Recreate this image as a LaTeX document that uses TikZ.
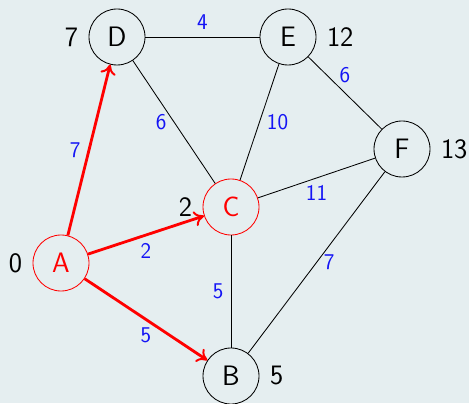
\documentclass[tikz,border=0pt]{standalone}
\usepackage{fontspec}
\usetikzlibrary{positioning}
\usetikzlibrary{arrows.meta}
\definecolor{bgpanel}{RGB}{229,238,240}
\definecolor{wblue}{RGB}{20,20,245}
\tikzset{
    mynode/.style = {circle, draw=black, line width=0.6pt, minimum size=1.4cm, inner sep=0pt, font=\sffamily\fontsize{20}{24}\selectfont},
    mynoder/.style = {mynode, draw=red, text=red},
    dist/.style = {font=\sffamily\fontsize{20}{24}\selectfont, label distance=4pt},
    weight/.style = {font=\sffamily\fontsize{16}{19}\selectfont, text=wblue, inner sep=5pt},
    edgen/.style = {line width=0.6pt, black},
    edger/.style = {-{To[length=7pt,width=11pt,line width=1.4pt]}, line width=2pt, red}, % tree
}
\begin{document}
\begin{tikzpicture}
  \fill[bgpanel] (0,0) rectangle (11.725,10.075);
  \useasboundingbox (0,0) rectangle (11.725,10.075);
  % vertices with their distances
  \node[mynoder, label={[dist]left:0}] at (1.525,3.5) (a) {A};
  \node[mynode, label={[dist]right:5}] at (5.775,0.675) (b) {B};
  \node[mynoder, label={[dist]left:2}] at (5.775,4.9) (c) {C};
  \node[mynode, label={[dist]left:7}] at (2.925,9.15) (d) {D};
  \node[mynode, label={[dist]right:12}] at (7.2,9.15) (e) {E};
  \node[mynode, label={[dist]right:13}] at (10.05,6.35) (f) {F};
  % edges
  \draw[edgen] (d) -- node[weight, above] {4} (e);
  \draw[edgen] (d) -- node[weight, left] {6} (c);
  \draw[edgen] (e) -- node[weight, right] {10} (c);
  \draw[edgen] (e) -- node[weight, above, inner sep=7pt] {6} (f);
  \draw[edgen] (c) -- node[weight, below] {11} (f);
  \draw[edgen] (f) -- node[weight, right] {7} (b);
  \draw[edgen] (c) -- node[weight, left] {5} (b);
  % shortest path tree
  \draw[edger] (a) -- node[weight, left] {7} (d);
  \draw[edger] (a) -- node[weight, below] {2} (c);
  \draw[edger] (a) -- node[weight, below] {5} (b);
\end{tikzpicture}
\end{document}
